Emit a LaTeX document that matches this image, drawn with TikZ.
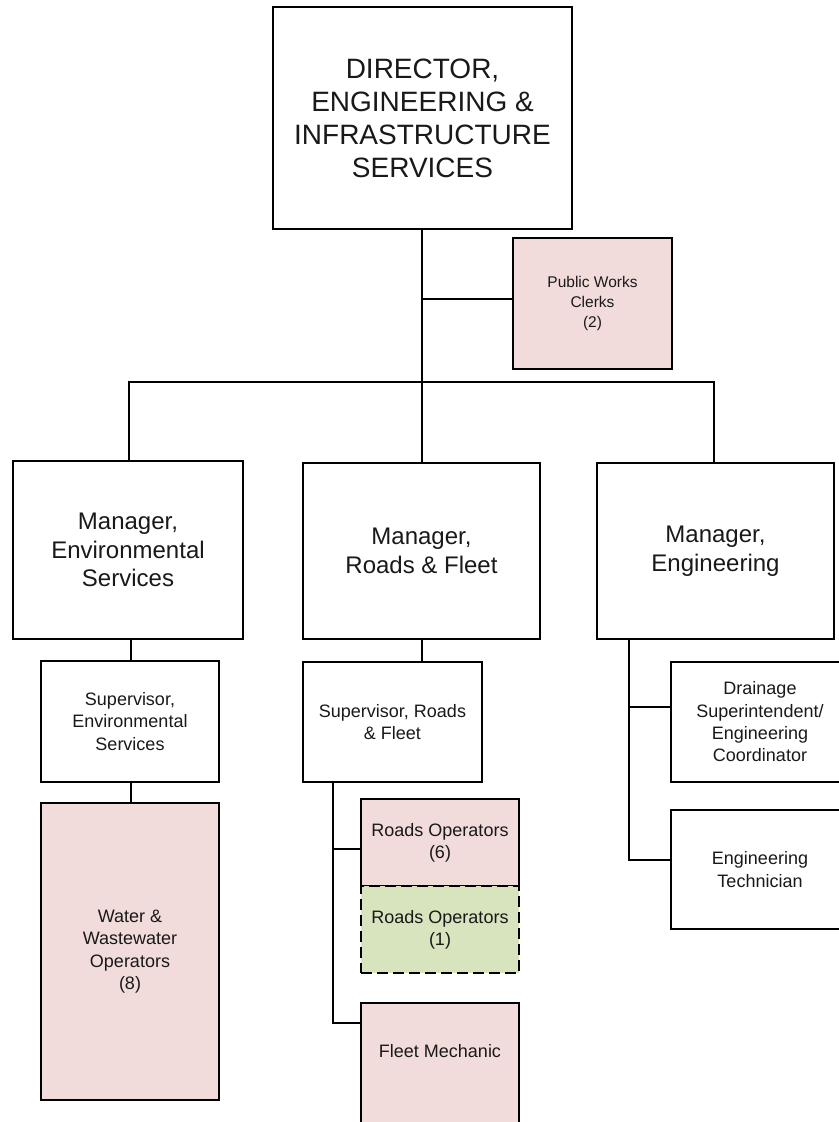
\documentclass[tikz,border=0pt]{standalone}
\usepackage{fontspec}
\setmainfont{Liberation Sans}
\begin{document}
\begin{tikzpicture}[x=1bp,y=-1bp,
  box/.style={draw=black, line width=1.3bp, rectangle, inner sep=2bp, align=center, text=black!90},
  pinkbox/.style={box, fill=staffpink},
  greenbox/.style={box, fill=staffgreen, dash pattern=on 11bp off 5bp},
  bigtext/.style={font=\fontsize{28bp}{33bp}\selectfont},
  midtext/.style={font=\fontsize{24bp}{28.5bp}\selectfont},
  smalltext/.style={font=\fontsize{18bp}{22.3bp}\selectfont},
  tinytext/.style={font=\fontsize{15.5bp}{20bp}\selectfont},
  link/.style={draw=black, line width=1.3bp}]
\definecolor{staffpink}{HTML}{F2DCDB}
\definecolor{staffgreen}{HTML}{D7E4BD}

\useasboundingbox (0,0) rectangle (839,1122);
\fill[white] (0,0) rectangle (839,1122);
\clip (0,0) rectangle (839,1122);

% director and clerks
\node[box, bigtext, minimum width=299bp, minimum height=222bp] (dir) at (422.5,118)
  {DIRECTOR,\\ENGINEERING \&\\INFRASTRUCTURE\\SERVICES};
\node[pinkbox, tinytext, minimum width=159bp, minimum height=131bp] (clerks) at (592.5,303.5)
  {Public Works\\Clerks\\(2)};

% managers
\node[box, midtext, minimum width=230bp, minimum height=178bp] (mgrenv) at (128,550)
  {Manager,\\Environmental\\Services};
\node[box, midtext, minimum width=237bp, minimum height=176bp] (mgrroads) at (421.5,551)
  {Manager,\\Roads \& Fleet};
\node[box, midtext, minimum width=237bp, minimum height=176bp] (mgreng) at (715.5,551)
  {Manager,\\Engineering};

% environmental services column
\node[box, smalltext, minimum width=178bp, minimum height=121bp] (supenv) at (130,721.5)
  {Supervisor,\\Environmental\\Services};
\node[pinkbox, smalltext, minimum width=178bp, minimum height=297bp] (water) at (130,951.5)
  {Water \&\\Wastewater\\Operators\\(8)};

% roads and fleet column
\node[box, smalltext, minimum width=179bp, minimum height=120bp] (suproads) at (392.5,722)
  {Supervisor, Roads\\\& Fleet};
\node[pinkbox, smalltext, minimum width=158bp, minimum height=87bp] (ops6) at (440,842.5)
  {Roads Operators\\(6)};
\node[greenbox, smalltext, minimum width=158bp, minimum height=87bp] (ops1) at (440,929.5)
  {Roads Operators\\(1)};
\node[pinkbox, minimum width=158bp, minimum height=142bp] (fleet) at (440,1074) {};
\node[smalltext, text=black!90, inner sep=0bp] (fleetlbl) at (440,1051) {Fleet Mechanic};

% engineering column
\node[box, smalltext, minimum width=178bp, minimum height=120bp] (drain) at (760,722)
  {Drainage\\Superintendent/\\Engineering\\Coordinator};
\node[box, smalltext, minimum width=178bp, minimum height=119bp] (tech) at (760,869.5)
  {Engineering\\Technician};

% reporting lines
\coordinate (bus) at (422,382);
\draw[link] (dir.south -| bus) -- (mgrroads.north -| bus);
\draw[link] (dir.south -| bus) |- (clerks.west |- 0,299);
\draw[link] (mgrenv.north -| 129,0) |- (bus) -| (mgreng.north -| 714,0);
\draw[link] (mgrenv.south -| 131,0) -- (supenv.north -| 131,0);
\draw[link] (supenv.south -| 131,0) -- (water.north -| 131,0);
\draw[link] (mgrroads.south -| 422,0) -- (suproads.north -| 422,0);
\draw[link] (suproads.south -| 333,0) |- (fleet.west |- 0,1023);
\draw[link] (333,849) -- (ops6.west |- 0,849);
\draw[link] (mgreng.south -| 629,0) |- (tech.west |- 0,860);
\draw[link] (629,707) -- (drain.west |- 0,707);
\end{tikzpicture}
\end{document}
